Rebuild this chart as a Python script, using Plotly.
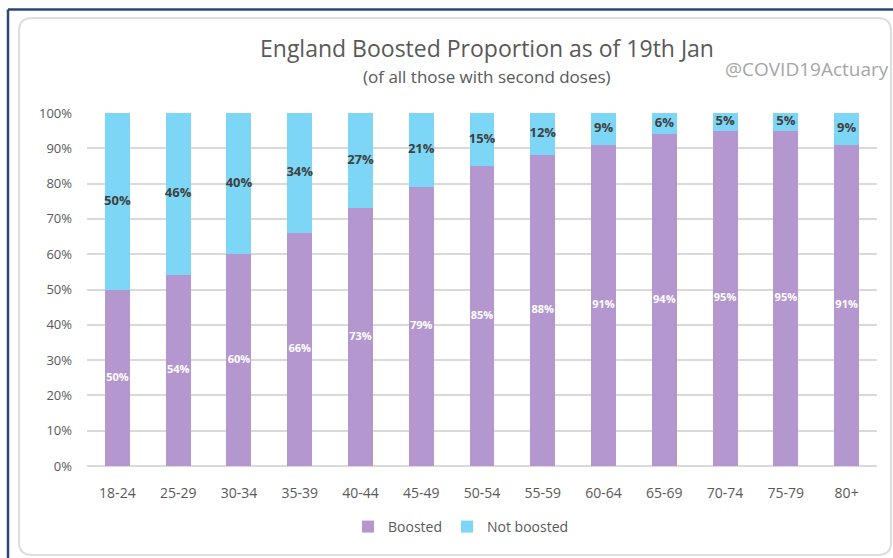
import plotly.graph_objects as go

categories = ["18-24", "25-29", "30-34", "35-39", "40-44", "45-49", "50-54",
              "55-59", "60-64", "65-69", "70-74", "75-79", "80+"]
boosted = [50, 54, 60, 66, 73, 79, 85, 88, 91, 94, 95, 95, 91]
not_boosted = [50, 46, 40, 34, 27, 21, 15, 12, 9, 6, 5, 5, 9]
y_ticks = [0, 10, 20, 30, 40, 50, 60, 70, 80, 90, 100]

W, H = 893, 558
L, R, T, B = 87, 16, 113, 92
PW, PH = W - L - R, H - T - B

def px(x):
    return (x - L) / PW

def py(y):
    return 1 - (y - T) / PH

PURPLE = "#B497CF"
BLUE = "#7DD6F6"
GREY = "#595959"

fig = go.Figure()
fig.add_trace(go.Bar(name="Boosted", x=categories, y=boosted, marker_color=PURPLE,
                     marker_line_width=0, hoverinfo="skip"))
fig.add_trace(go.Bar(name="Not boosted", x=categories, y=not_boosted, marker_color=BLUE,
                     marker_line_width=0, hoverinfo="skip"))

fig.add_trace(go.Scatter(x=categories, y=[b / 2 for b in boosted], mode="text",
                         text=[f"{b}%" for b in boosted], showlegend=False,
                         textfont=dict(family="Open Sans", size=11, color="white", weight="bold"),
                         cliponaxis=False, hoverinfo="skip"))
fig.add_trace(go.Scatter(x=categories, y=[b + n / 2 for b, n in zip(boosted, not_boosted)],
                         mode="text", text=[f"{n}%" for n in not_boosted], showlegend=False,
                         textfont=dict(family="Open Sans", size=13, color="#404040", weight="bold"),
                         cliponaxis=False, hoverinfo="skip"))

# rounded card path
x0, y0, x1, y1, r = 19, 18, 891, 555, 13
path = (f"M {px(x0 + r)},{py(y0)} L {px(x1 - r)},{py(y0)} "
        f"Q {px(x1)},{py(y0)} {px(x1)},{py(y0 + r)} L {px(x1)},{py(y1 - r)} "
        f"Q {px(x1)},{py(y1)} {px(x1 - r)},{py(y1)} L {px(x0 + r)},{py(y1)} "
        f"Q {px(x0)},{py(y1)} {px(x0)},{py(y1 - r)} L {px(x0)},{py(y0 + r)} "
        f"Q {px(x0)},{py(y0)} {px(x0 + r)},{py(y0)} Z")

shapes = [
    dict(type="path", xref="paper", yref="paper", path=path,
         line=dict(color="#DDDDDD", width=2), layer="below"),
    dict(type="line", xref="paper", yref="paper", x0=px(8), x1=px(893), y0=py(9.5), y1=py(9.5),
         line=dict(color="#2E4676", width=2.5)),
    dict(type="line", xref="paper", yref="paper", x0=px(8), x1=px(8), y0=py(9.5), y1=py(558),
         line=dict(color="#2E4676", width=2.5)),
]

annotations = [
    dict(text="England Boosted Proportion as of 19th Jan", xref="paper", yref="paper",
         x=px(487), y=py(48), showarrow=False, xanchor="center", yanchor="middle",
         font=dict(family="Open Sans", size=23, color=GREY)),
    dict(text="(of all those with second doses)", xref="paper", yref="paper",
         x=px(487), y=py(76), showarrow=False, xanchor="center", yanchor="middle",
         font=dict(family="Open Sans", size=17, color=GREY)),
    dict(text="@COVID19Actuary", xref="paper", yref="paper",
         x=px(807), y=py(69), showarrow=False, xanchor="center", yanchor="middle",
         font=dict(family="Open Sans", size=19, color="#A6A6A6")),
]

fig.update_layout(
    barmode="stack", bargap=0.59,
    width=W, height=H,
    margin=dict(l=L, r=R, t=T, b=B, pad=0),
    paper_bgcolor="white", plot_bgcolor="white",
    font=dict(family="Open Sans", color=GREY, size=13),
    shapes=shapes, annotations=annotations,
    legend=dict(orientation="h", x=px(461), y=py(527), xanchor="center", yanchor="middle",
                font=dict(size=14, color=GREY), traceorder="normal", itemwidth=30),
    xaxis=dict(range=[-0.5, len(categories) - 0.5], showgrid=False, showline=False, ticks="",
               tickfont=dict(size=14, color=GREY), ticklabelstandoff=17),
    yaxis=dict(range=[0, 100], tickvals=y_ticks, ticktext=[f"{v}%" for v in y_ticks],
               showgrid=True, gridcolor="#D9D9D9", gridwidth=1.5, zeroline=True,
               zerolinecolor="#D9D9D9", zerolinewidth=1.5, showline=False, ticks="",
               tickfont=dict(size=13, color=GREY), ticklabelstandoff=14),
)

fig.write_html("out.html")
